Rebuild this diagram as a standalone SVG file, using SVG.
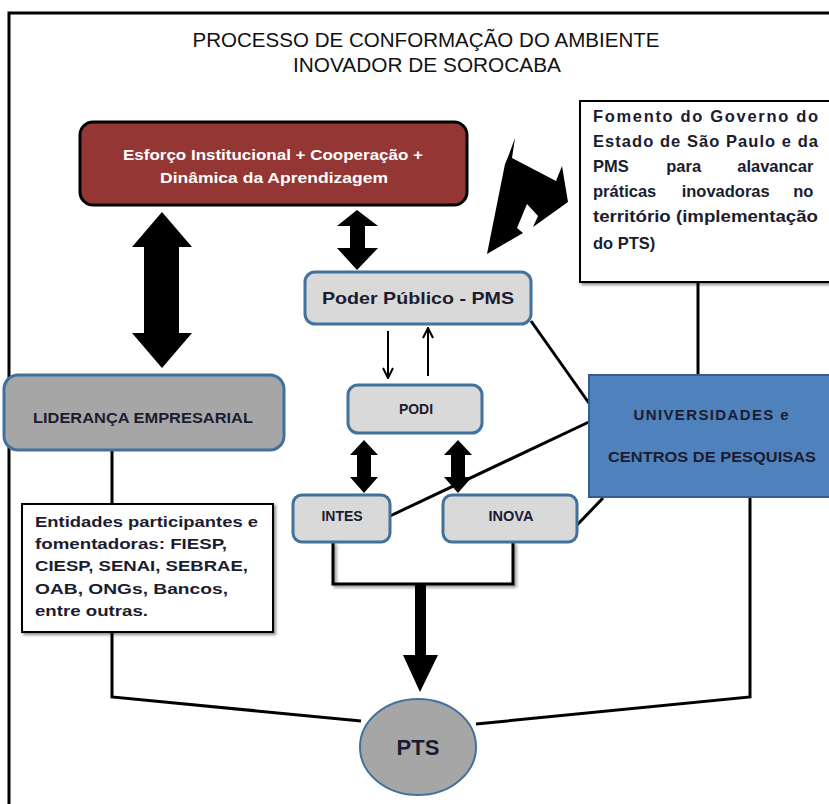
<svg xmlns="http://www.w3.org/2000/svg" width="829" height="804" viewBox="0 0 829 804">
<style>
.t{font-family:"Liberation Sans",Arial,sans-serif;font-weight:bold;fill:#1c1c30}
.ttl{font-family:"Liberation Sans",Arial,sans-serif;font-size:20px;fill:#111}
.gb{fill:#d9d9d9;stroke:#41719c;stroke-width:3}
.ln{fill:none;stroke:#000;stroke-width:3}
.blk{fill:#000}
</style>
<defs>
<filter id="sh" x="-10%" y="-10%" width="130%" height="130%">
<feDropShadow dx="2" dy="2" stdDeviation="1.5" flood-color="#000" flood-opacity="0.45"/>
</filter>
<marker id="ah" viewBox="0 0 12 12" refX="11" refY="6" markerWidth="12" markerHeight="12" orient="auto" markerUnits="userSpaceOnUse">
<path d="M1,1 L11,6 L1,11" fill="none" stroke="#000" stroke-width="2"/>
</marker>
</defs>
<rect width="829" height="804" fill="#fff"/>
<path d="M9,840 V13 H840" fill="none" stroke="#000" stroke-width="3"/>
<g id="title">
<text class="ttl" x="426" y="47" text-anchor="middle" textLength="467" lengthAdjust="spacingAndGlyphs">PROCESSO DE CONFORMAÇÃO DO AMBIENTE</text>
<text class="ttl" x="427" y="72" text-anchor="middle" textLength="268" lengthAdjust="spacingAndGlyphs">INOVADOR DE SOROCABA</text>
</g>
<g id="connectors">
<line class="ln" x1="531" y1="321" x2="591" y2="406"/>
<line class="ln" x1="390" y1="516" x2="591" y2="421"/>
<line class="ln" x1="577" y1="525" x2="603" y2="498"/>
<line class="ln" x1="698" y1="282" x2="698" y2="376"/>
<polyline class="ln" points="750,497 750,697 476,724"/>
<polyline class="ln" points="112,451 112,504"/>
<polyline class="ln" points="112,632 112,697 361,721"/>
<polyline class="ln" points="333,542 333,584 513,584 513,542" filter="url(#sh)"/>
<line x1="388" y1="331" x2="388" y2="378" stroke="#000" stroke-width="2" marker-end="url(#ah)"/>
<line x1="428" y1="376" x2="428" y2="328" stroke="#000" stroke-width="2" marker-end="url(#ah)"/>
<polygon class="blk" points="162,212 192,247 179,247 179,333 192,333 162,368 132,333 144,333 144,247 132,247"/>
<polygon class="blk" points="357,210 378,226 365,226 365,248 378,248 357,270 337,248 350,248 350,226 337,226"/>
<polygon class="blk" points="364,440 378,455 371,455 371,477 378,477 364,493 350,477 357,477 357,455 350,455"/>
<polygon class="blk" points="458,440 472,455 465,455 465,477 472,477 458,493 444,477 451,477 451,455 444,455"/>
<polygon class="blk" points="415,584 426,584 426,655 438,655 420,692 403,655 415,655"/>
<polygon class="blk" points="515,138 512,158 556,181 562,166 568,202 533,227 538,216 527,204 517,228 523,233 487,254 505,164 508,157"/>
</g>
<g id="esforco">
<rect x="80" y="122" width="387" height="83" rx="13" fill="#943634" stroke="#000" stroke-width="3"/>
<text class="t" x="273" y="160" font-size="15" text-anchor="middle" style="fill:#fff" textLength="300" lengthAdjust="spacingAndGlyphs">Esforço Institucional + Cooperação +</text>
<text class="t" x="274" y="183" font-size="15" text-anchor="middle" style="fill:#fff" textLength="228" lengthAdjust="spacingAndGlyphs">Dinâmica da Aprendizagem</text>
</g>
<g id="fomento">
<rect x="580" y="101" width="260" height="181" fill="#fff" stroke="#000" stroke-width="2" filter="url(#sh)"/>
<text class="t" font-size="16.5">
<tspan x="593" y="122" textLength="225" lengthAdjust="spacing">Fomento do Governo do</tspan>
<tspan x="593" y="147" textLength="225" lengthAdjust="spacing">Estado de São Paulo e da</tspan>
<tspan x="593" y="172">PMS</tspan>
<tspan x="686" y="172" text-anchor="middle">para</tspan>
<tspan x="818" y="172" text-anchor="end">alavancar</tspan>
<tspan x="593" y="197">práticas</tspan>
<tspan x="728" y="197" text-anchor="middle">inovadoras</tspan>
<tspan x="818" y="197" text-anchor="end">no</tspan>
<tspan x="593" y="222" textLength="225" lengthAdjust="spacingAndGlyphs">território (implementação</tspan>
<tspan x="593" y="249">do PTS)</tspan>
</text>
</g>
<g id="poder">
<rect class="gb" x="305" y="272" width="226" height="52" rx="10"/>
<text class="t" x="418" y="304" font-size="17" text-anchor="middle" textLength="192" lengthAdjust="spacingAndGlyphs">Poder Público - PMS</text>
</g>
<g id="lideranca">
<rect x="4" y="375" width="280" height="75" rx="14" fill="#a6a6a6" stroke="#41719c" stroke-width="3"/>
<text class="t" x="143" y="423" font-size="14" text-anchor="middle" textLength="220" lengthAdjust="spacingAndGlyphs">LIDERANÇA EMPRESARIAL</text>
</g>
<g id="podi">
<rect class="gb" x="348" y="385" width="134" height="48" rx="10"/>
<text class="t" x="416" y="414" font-size="14" text-anchor="middle">PODI</text>
</g>
<g id="universidades">
<rect x="589" y="375" width="250" height="122" fill="#4f81bd" stroke="#385d8a" stroke-width="2"/>
<text class="t" x="711" y="420" font-size="15" text-anchor="middle" textLength="155" lengthAdjust="spacing">UNIVERSIDADES e</text>
<text class="t" x="712" y="462" font-size="15" text-anchor="middle" textLength="208" lengthAdjust="spacingAndGlyphs">CENTROS DE PESQUISAS</text>
</g>
<g id="entidades">
<rect x="22" y="504" width="251" height="128" fill="#fff" stroke="#000" stroke-width="2" filter="url(#sh)"/>
<text class="t" font-size="15.5">
<tspan x="35" y="527" textLength="223" lengthAdjust="spacingAndGlyphs">Entidades participantes e</tspan>
<tspan x="35" y="549" textLength="192" lengthAdjust="spacingAndGlyphs">fomentadoras: FIESP,</tspan>
<tspan x="35" y="571" textLength="213" lengthAdjust="spacingAndGlyphs">CIESP, SENAI, SEBRAE,</tspan>
<tspan x="35" y="594" textLength="193" lengthAdjust="spacingAndGlyphs">OAB, ONGs, Bancos,</tspan>
<tspan x="35" y="616" textLength="113" lengthAdjust="spacingAndGlyphs">entre outras.</tspan>
</text>
</g>
<g id="intes">
<rect class="gb" x="293" y="495" width="97" height="47" rx="9"/>
<text class="t" x="342" y="521" font-size="14" text-anchor="middle">INTES</text>
</g>
<g id="inova">
<rect class="gb" x="443" y="495" width="134" height="47" rx="9"/>
<text class="t" x="511" y="521" font-size="14.5" text-anchor="middle">INOVA</text>
</g>
<g id="pts">
<ellipse cx="418" cy="747" rx="58" ry="48" fill="#a6a6a6" stroke="#41719c" stroke-width="2"/>
<text class="t" x="418" y="755" font-size="22" text-anchor="middle">PTS</text>
</g>
</svg>
